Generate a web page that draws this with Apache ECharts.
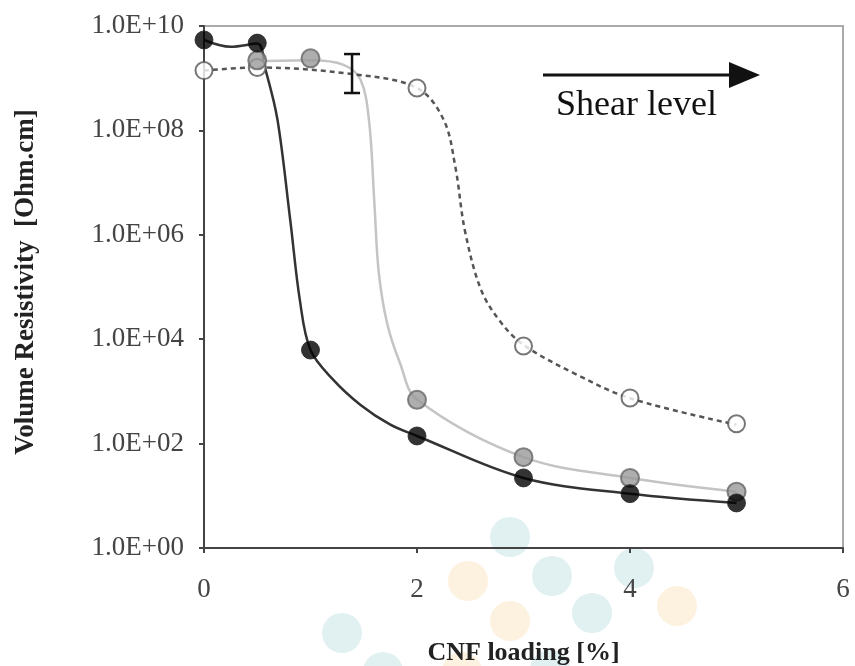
<!DOCTYPE html>
<html>
<head>
<meta charset="utf-8">
<title>Volume resistivity vs CNF loading</title>
<script src="https://cdn.jsdelivr.net/npm/echarts@6/dist/echarts.min.js"></script>
<style>
  html, body { margin: 0; padding: 0; background: #fff; }
  #chart { width: 855px; height: 666px; }
</style>
</head>
<body>
<div id="chart"></div>
<script>
// Measured points (CNF loading %, resistivity Ohm.cm)
var blackX = [0, 0.5, 1, 2, 3, 4, 5];
var blackY = [5.4e9, 4.7e9, 6.2e3, 140, 22, 11, 7.3];

var grayX = [0.5, 1, 2, 3, 4, 5];
var grayY = [2.2e9, 2.4e9, 690, 55, 22, 12];

var whiteX = [0, 0.5, 2, 3, 4, 5];
var whiteY = [1.4e9, 1.6e9, 6.5e8, 7.4e3, 750, 240];

// Fitted trend curves
var blackFitX = [0, 0.25, 0.5, 0.58, 0.69, 0.81, 0.9, 1.0, 1.21, 1.47, 1.75, 2.0, 3.0, 4.0, 5.0];
var blackFitY = [5.4e9, 4.0e9, 4.6e9, 1.4e9, 1.6e8, 1.9e6, 5.6e4, 6.2e3, 1.7e3, 550, 230, 140, 22, 11, 7.3];

var grayFitX = [0.5, 1.0, 1.31, 1.47, 1.55, 1.6, 1.64, 1.72, 1.84, 2.0, 3.0, 4.0, 5.0];
var grayFitY = [2.1e9, 2.2e9, 1.8e9, 9.3e8, 1.5e8, 4.0e6, 2.0e5, 2.0e4, 3.5e3, 700, 55, 22, 12];

var whiteFitX = [0, 0.5, 1.39, 2.0, 2.25, 2.36, 2.45, 2.6, 2.78, 3.0, 3.48, 4.0, 5.0];
var whiteFitY = [1.4e9, 1.6e9, 1.2e9, 6.5e8, 1.6e8, 2.0e7, 1.2e6, 9.0e4, 2.2e4, 7.8e3, 2.2e3, 740, 230];

// Error bar on the dashed curve
var errX = [1.39];
var errLow = [5.2e8];
var errHigh = [2.9e9];

// Axis ticks
var xTicks = [0, 2, 4, 6];
var yTickExp = [0, 2, 4, 6, 8, 10];

function pairs(xs, ys) {
  return xs.map(function(x, i) { return [x, ys[i]]; });
}

var chart = echarts.init(document.getElementById('chart'), null, {renderer: 'canvas'});

var serif = '"Liberation Serif", "Times New Roman", serif';

var option = {
  animation: false,
  backgroundColor: '#fff',
  grid: {
    left: 204, right: 12, top: 26, bottom: 118,
    outerBoundsMode: 'none',
    show: true, borderColor: '#aaa', borderWidth: 2
  },
  xAxis: {
    type: 'value',
    min: xTicks[0], max: xTicks[xTicks.length - 1], interval: 2,
    name: 'CNF loading [%]',
    nameLocation: 'middle', nameGap: 92,
    nameTextStyle: {fontFamily: serif, fontWeight: 'bold', fontSize: 26, color: '#222'},
    axisLine: {lineStyle: {color: '#444', width: 2}},
    axisTick: {length: 5, lineStyle: {color: '#444', width: 2}},
    axisLabel: {fontFamily: serif, fontSize: 27, color: '#444', margin: 28},
    splitLine: {show: false}
  },
  yAxis: {
    type: 'log',
    logBase: 100,
    min: Math.pow(10, yTickExp[0]), max: Math.pow(10, yTickExp[yTickExp.length - 1]),
    name: 'Volume Resistivity  [Ohm.cm]',
    nameLocation: 'middle', nameGap: 164,
    nameTextStyle: {fontFamily: serif, fontWeight: 'bold', fontSize: 27, color: '#222', padding: [0, 0, 0, 10]},
    axisLine: {show: true, lineStyle: {color: '#444', width: 2}},
    axisTick: {show: true, length: 5, lineStyle: {color: '#444', width: 2}},
    axisLabel: {
      fontFamily: serif, fontSize: 27, color: '#444', margin: 20,
      formatter: function(v) {
        var e = Math.round(Math.log(v) / Math.LN10);
        return '1.0E+' + (e < 10 ? '0' + e : e);
      }
    },
    splitLine: {show: false}
  },
  graphic: [
    // faded watermark dots
    {type: 'group', silent: true, z: -10, children: [
      {type: 'circle', shape: {cx: 510, cy: 537, r: 20}, style: {fill: '#e1f0f1'}},
      {type: 'circle', shape: {cx: 552, cy: 576, r: 20}, style: {fill: '#e1f0f1'}},
      {type: 'circle', shape: {cx: 634, cy: 568, r: 20}, style: {fill: '#e1f0f1'}},
      {type: 'circle', shape: {cx: 592, cy: 613, r: 20}, style: {fill: '#e1f0f1'}},
      {type: 'circle', shape: {cx: 342, cy: 633, r: 20}, style: {fill: '#e1f0f1'}},
      {type: 'circle', shape: {cx: 383, cy: 672, r: 20}, style: {fill: '#e1f0f1'}},
      {type: 'circle', shape: {cx: 550, cy: 670, r: 20}, style: {fill: '#e1f0f1'}},
      {type: 'circle', shape: {cx: 468, cy: 581, r: 20}, style: {fill: '#fdf2e0'}},
      {type: 'circle', shape: {cx: 510, cy: 621, r: 20}, style: {fill: '#fdf2e0'}},
      {type: 'circle', shape: {cx: 677, cy: 606, r: 20}, style: {fill: '#fdf2e0'}},
      {type: 'circle', shape: {cx: 462, cy: 672, r: 20}, style: {fill: '#fdf2e0'}}
    ]},
    // shear level arrow
    {type: 'line', shape: {x1: 543, y1: 75, x2: 735, y2: 75}, style: {stroke: '#111', lineWidth: 3}},
    {type: 'polygon', shape: {points: [[729, 62], [760, 75], [729, 88]]}, style: {fill: '#111'}},
    {type: 'text', left: 556, top: 88, style: {text: 'Shear level', font: '36px ' + serif, fill: '#111'}}
  ],
  series: [
    {
      type: 'line', data: pairs(blackFitX, blackFitY), smooth: 0.35,
      showSymbol: false, lineStyle: {color: '#333', width: 2.5}, z: 2
    },
    {
      type: 'line', data: pairs(grayFitX, grayFitY), smooth: 0.35,
      showSymbol: false, lineStyle: {color: '#c4c4c4', width: 2.5}, z: 2
    },
    {
      type: 'line', data: pairs(whiteFitX, whiteFitY), smooth: 0.35,
      showSymbol: false, lineStyle: {color: '#555', width: 2.5, type: [5, 4]}, z: 2
    },
    {
      type: 'custom', z: 3,
      data: errX.map(function(x, i) { return [x, errLow[i], errHigh[i]]; }),
      renderItem: function(params, api) {
        var lo = api.coord([api.value(0), api.value(1)]);
        var hi = api.coord([api.value(0), api.value(2)]);
        var w = 8;
        var st = {stroke: '#111', lineWidth: 2.5};
        return {type: 'group', children: [
          {type: 'line', shape: {x1: lo[0], y1: lo[1], x2: hi[0], y2: hi[1]}, style: st},
          {type: 'line', shape: {x1: lo[0] - w, y1: lo[1], x2: lo[0] + w, y2: lo[1]}, style: st},
          {type: 'line', shape: {x1: hi[0] - w, y1: hi[1], x2: hi[0] + w, y2: hi[1]}, style: st}
        ]};
      }
    },
    {
      type: 'scatter', data: pairs(whiteX, whiteY), symbolSize: 17, z: 4,
      itemStyle: {color: '#fff', borderColor: '#555', borderWidth: 2}
    },
    {
      type: 'scatter', data: pairs(grayX, grayY), symbolSize: 18, z: 5,
      itemStyle: {color: '#9a9a9a', borderColor: '#666', borderWidth: 2}
    },
    {
      type: 'scatter', data: pairs(blackX, blackY), symbolSize: 18, z: 6,
      itemStyle: {color: '#000', borderColor: '#222', borderWidth: 1}
    }
  ]
};

chart.setOption(option);
</script>
</body>
</html>
